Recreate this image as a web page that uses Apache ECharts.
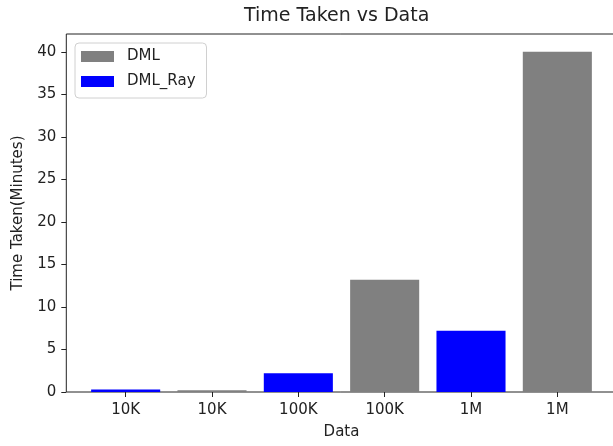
<!DOCTYPE html>
<html>
<head>
<meta charset="utf-8">
<script src="https://cdn.jsdelivr.net/npm/echarts@6/dist/echarts.min.js"></script>
<style>html,body{margin:0;padding:0;background:#fff}#c{width:613px;height:446px}</style>
</head>
<body>
<div id="c"></div>
<script>
const categories = ['10K', '10K', '100K', '100K', '1M', '1M'];
const dmlValues = [null, 0.2, null, 13.2, null, 40.0];
const dmlRayValues = [0.3, null, 2.2, null, 7.2, null];
const yTicks = [0, 5, 10, 15, 20, 25, 30, 35, 40];

const FONT = 'DejaVu Sans';
const INK = '#222';
const chart = echarts.init(document.getElementById('c'), null, {renderer: 'canvas'});
chart.setOption({
  animation: false,
  backgroundColor: '#fff',
  textStyle: {fontFamily: FONT},
  title: {
    text: 'Time Taken vs Data',
    left: 244, top: 7, padding: 0,
    textStyle: {fontFamily: FONT, fontSize: 19, fontWeight: 'normal', color: INK}
  },
  legend: {
    orient: 'vertical', left: 75, top: 43,
    padding: [6, 11, 9, 6],
    itemWidth: 33, itemHeight: 11, itemGap: 10,
    borderColor: '#d0d0d0', borderWidth: 1, borderRadius: 4,
    backgroundColor: 'rgba(255,255,255,0.8)',
    icon: 'rect',
    textStyle: {fontFamily: FONT, fontSize: 15, lineHeight: 15, color: INK, padding: [0, 0, 0, 8]},
    data: ['DML', 'DML_Ray']
  },
  grid: [
    {left: 82.5, right: 12.5, top: 34, bottom: 54, show: false, outerBoundsMode: 'none'},
    {left: 66.3, width: 570, top: 34, bottom: 54, show: true, borderColor: INK, borderWidth: 1,
     backgroundColor: 'transparent', outerBoundsMode: 'none'}
  ],
  xAxis: [{
    type: 'category', gridIndex: 0, data: categories, boundaryGap: true,
    name: 'Data', nameLocation: 'middle', nameGap: 33,
    nameTextStyle: {fontFamily: FONT, fontSize: 15, color: INK},
    axisLine: {show: false},
    axisTick: {show: true, alignWithLabel: true, length: 5, lineStyle: {color: INK, width: 1}},
    axisLabel: {fontFamily: FONT, fontSize: 15, color: INK, margin: 11, interval: 0},
    splitLine: {show: false}
  }],
  yAxis: [{
    type: 'value', gridIndex: 0, min: 0, max: 42.1, offset: 16.2,
    name: 'Time Taken(Minutes)', nameLocation: 'middle', nameGap: 41,
    nameTextStyle: {fontFamily: FONT, fontSize: 15, color: INK},
    axisLine: {show: false},
    axisTick: {show: true, length: 5, lineStyle: {color: INK, width: 1}, customValues: yTicks},
    axisLabel: {fontFamily: FONT, fontSize: 15, color: INK, margin: 10, customValues: yTicks},
    splitLine: {show: false}
  }],
  series: [
    {name: 'DML', type: 'bar', stack: 'one', barWidth: '80%', data: dmlValues,
     itemStyle: {color: '#808080'}},
    {name: 'DML_Ray', type: 'bar', stack: 'one', barWidth: '80%', data: dmlRayValues,
     itemStyle: {color: '#0000ff'}}
  ]
});
</script>
</body>
</html>
